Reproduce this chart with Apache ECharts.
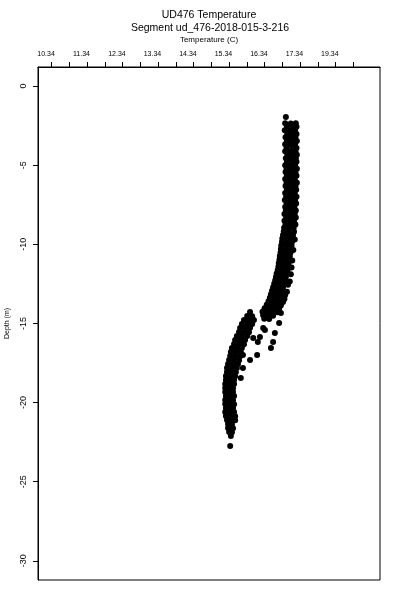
<!DOCTYPE html>
<html><head><meta charset="utf-8">
<script src="https://cdn.jsdelivr.net/npm/echarts@6/dist/echarts.min.js"></script>
<style>html,body{margin:0;padding:0;background:#fff}#c{width:400px;height:600px}</style>
</head><body><div id="c"></div>
<script>
const chartTitle = 'UD476 Temperature';
const chartSubtitle = 'Segment ud_476-2018-015-3-216';
const xName = 'Temperature (C)';
const yName = 'Depth (m)';
const xTickValues = [10.5,11.0,11.5,12.0,12.5,13.0,13.5,14.0,14.5,15.0,15.5,16.0,16.5,17.0,17.5,18.0,18.5,19.0];
const xLabelValues = [10.34,11.34,12.34,13.34,14.34,15.34,16.34,17.34,18.34];
const xLabelText = ['10.34','11.34','12.34','13.34','14.34','15.34','16.34','17.34','19.34'];
const yTickValues = [-30,-25,-20,-15,-10,-5,0];

// [temperature, depth]
const upperProfile = [
[17.10,-1.96],
[17.08,-2.35],[17.24,-2.37],[17.38,-2.36],
[17.13,-2.58],[17.28,-2.59],[17.40,-2.57],
[17.07,-2.80],[17.22,-2.82],[17.36,-2.81],
[17.14,-3.02],[17.29,-3.04],[17.40,-3.03],
[17.09,-3.24],[17.24,-3.26],[17.37,-3.25],
[17.13,-3.46],[17.27,-3.48],[17.41,-3.47],
[17.08,-3.68],[17.22,-3.70],[17.36,-3.69],
[17.12,-3.90],[17.28,-3.92],[17.40,-3.91],
[17.08,-4.12],[17.23,-4.14],[17.37,-4.13],
[17.14,-4.34],[17.27,-4.36],[17.41,-4.35],
[17.10,-4.56],[17.24,-4.58],[17.38,-4.57],
[17.13,-4.78],[17.29,-4.80],[17.40,-4.79],
[17.08,-5.00],[17.22,-5.02],[17.36,-5.01],
[17.12,-5.22],[17.26,-5.24],[17.41,-5.23],
[17.09,-5.44],[17.23,-5.46],[17.37,-5.45],
[17.13,-5.66],[17.28,-5.68],[17.40,-5.67],
[17.08,-5.88],[17.22,-5.90],[17.35,-5.89],
[17.12,-6.10],[17.27,-6.12],[17.41,-6.11],
[17.09,-6.32],[17.24,-6.34],[17.37,-6.33],
[17.13,-6.54],[17.28,-6.56],[17.39,-6.55],
[17.08,-6.76],[17.21,-6.78],[17.35,-6.77],
[17.11,-6.98],[17.26,-7.00],[17.40,-6.99],
[17.07,-7.20],[17.22,-7.22],[17.36,-7.21],
[17.12,-7.42],[17.27,-7.44],[17.39,-7.43],
[17.08,-7.64],[17.21,-7.66],[17.34,-7.65],
[17.10,-7.86],[17.25,-7.88],[17.38,-7.87],
[17.06,-8.08],[17.20,-8.10],[17.35,-8.09],
[17.11,-8.30],[17.26,-8.32],[17.38,-8.31],
[17.06,-8.52],[17.19,-8.54],[17.33,-8.53],
[17.09,-8.74],[17.24,-8.76],[17.37,-8.75],
[17.05,-8.96],[17.18,-8.98],[17.32,-8.97]
];
const midProfile = [
[17.04,-9.20],[17.18,-9.22],[17.33,-9.21],
[17.02,-9.42],[17.16,-9.44],[17.30,-9.43],
[17.00,-9.64],[17.14,-9.66],[17.29,-9.65],[17.35,-9.70],
[16.99,-9.86],[17.13,-9.88],[17.27,-9.87],
[16.97,-10.08],[17.11,-10.10],[17.26,-10.09],
[16.96,-10.30],[17.10,-10.32],[17.24,-10.31],[17.31,-10.36],
[16.95,-10.52],[17.09,-10.54],[17.23,-10.53],
[16.93,-10.74],[17.07,-10.76],[17.21,-10.75],
[16.92,-10.96],[17.06,-10.98],[17.20,-10.97],[17.28,-11.02],
[16.90,-11.18],[17.04,-11.20],[17.18,-11.19],
[16.89,-11.40],[17.03,-11.42],[17.16,-11.41],[17.26,-11.47],
[16.87,-11.62],[17.01,-11.64],[17.15,-11.63],
[16.84,-11.84],[16.98,-11.86],[17.12,-11.85],[17.24,-11.90],
[16.82,-12.06],[16.96,-12.08],[17.10,-12.07],
[16.80,-12.28],[16.94,-12.30],[17.08,-12.29],[17.21,-12.35],
[16.77,-12.50],[16.91,-12.52],[17.05,-12.51],[17.16,-12.55],
[16.74,-12.72],[16.88,-12.74],[17.02,-12.73],
[16.71,-12.94],[16.85,-12.96],[16.99,-12.95],[17.13,-13.00],
[16.68,-13.16],[16.81,-13.18],[16.95,-13.17],[17.08,-13.20],
[16.65,-13.38],[16.78,-13.40],[16.92,-13.39],[17.06,-13.45],
[16.61,-13.60],[16.74,-13.62],[16.88,-13.61],[17.02,-13.65],
[16.56,-13.82],[16.70,-13.84],[16.84,-13.83],[16.96,-13.86],
[16.50,-14.04],[16.64,-14.06],[16.78,-14.05],[16.91,-14.08],
[16.44,-14.26],[16.58,-14.28],[16.72,-14.27],[16.86,-14.30],
[16.46,-14.48],[16.60,-14.50],[16.74,-14.52],
[16.49,-14.70],[16.63,-14.72]
];
const offsetPoints = [
[16.96,-14.34],[16.91,-14.97],[16.79,-15.60],[16.74,-16.17],[16.68,-16.55],
[16.51,-15.41],[16.46,-15.29],[16.37,-15.86],[16.31,-16.17],[16.18,-15.92],
[16.29,-16.99],[16.09,-17.31],[15.89,-16.99],[15.89,-17.81],[15.83,-18.45]
];
const lowerProfile = [
[16.09,-14.28],
[16.01,-14.53],[16.15,-14.55],
[15.92,-14.78],[16.06,-14.80],[16.20,-14.79],
[15.86,-15.03],[16.01,-15.05],[16.15,-15.04],
[15.81,-15.29],[15.95,-15.30],[16.09,-15.28],
[15.78,-15.54],[15.92,-15.56],[16.06,-15.55],
[15.72,-15.79],[15.86,-15.81],[16.01,-15.80],
[15.67,-16.05],[15.81,-16.06],[15.95,-16.04],
[15.64,-16.30],[15.78,-16.32],[15.92,-16.31],
[15.58,-16.55],[15.72,-16.57],[15.86,-16.56],
[15.55,-16.80],[15.69,-16.82],[15.83,-16.81],
[15.53,-17.06],[15.67,-17.08],[15.81,-17.07],
[15.50,-17.31],[15.64,-17.33],[15.78,-17.32],
[15.47,-17.56],[15.61,-17.58],[15.75,-17.57],
[15.44,-17.81],[15.58,-17.83],[15.72,-17.82],
[15.44,-18.07],[15.55,-18.09],[15.69,-18.08],
[15.41,-18.32],[15.53,-18.34],[15.67,-18.33],
[15.41,-18.57],[15.53,-18.59],[15.64,-18.58],
[15.39,-18.82],[15.50,-18.84],[15.64,-18.83],
[15.39,-19.08],[15.50,-19.10],[15.61,-19.09],
[15.39,-19.33],[15.50,-19.35],[15.61,-19.34],
[15.41,-19.58],[15.53,-19.60],[15.64,-19.59],
[15.39,-19.84],[15.50,-19.86],[15.61,-19.85],
[15.39,-20.09],[15.50,-20.11],[15.64,-20.10],
[15.41,-20.34],[15.53,-20.36],[15.61,-20.35],
[15.39,-20.59],[15.53,-20.61],[15.64,-20.60],
[15.41,-20.85],[15.53,-20.87],[15.67,-20.86],
[15.44,-21.10],[15.55,-21.12],[15.67,-21.11],
[15.47,-21.35],[15.58,-21.37],
[15.47,-21.60],[15.61,-21.62],
[15.50,-21.86],[15.58,-21.88],
[15.55,-22.11],
[15.53,-22.74]
];

const FONT = '"Liberation Sans", Arial, Helvetica, sans-serif';
const profileData = upperProfile.concat(midProfile, offsetPoints, lowerProfile);

const chart = echarts.init(document.getElementById('c'), null, {renderer: 'canvas'});
chart.setOption({
  animation: false,
  backgroundColor: '#ffffff',
  title: [
    {text: chartTitle, left: 209, top: 10, textAlign: 'center', padding: 0,
     textStyle: {fontSize: 10.5, fontWeight: 'normal', color: '#000', fontFamily: FONT}},
    {text: chartSubtitle, left: 210, top: 23, textAlign: 'center', padding: 0,
     textStyle: {fontSize: 10.5, fontWeight: 'normal', color: '#000', fontFamily: FONT}}
  ],
  grid: {left: 38, right: 20, top: 67, bottom: 20, show: true, borderColor: '#000', borderWidth: 1,
         containLabel: false, outerBoundsMode: 'none'},
  xAxis: {
    type: 'value', position: 'top', min: 10.114, max: 19.753,
    name: xName, nameLocation: 'middle', nameGap: 23,
    nameTextStyle: {fontSize: 8, color: '#000', fontFamily: FONT},
    axisLine: {show: true, onZero: false, lineStyle: {color: '#000', width: 1}},
    axisTick: {show: true, inside: false, length: 5, lineStyle: {color: '#000', width: 1}, customValues: xTickValues},
    axisLabel: {customValues: xLabelValues, fontSize: 7, color: '#000', fontFamily: FONT, margin: 9,
      formatter: function (v) {
        const i = xLabelValues.findIndex(function (t) { return Math.abs(t - v) < 1e-6; });
        return i >= 0 ? xLabelText[i] : '';
      }},
    splitLine: {show: false}
  },
  yAxis: {
    type: 'value', position: 'left', min: -31.21, max: 1.2,
    name: yName, nameLocation: 'middle', nameGap: 27,
    nameTextStyle: {fontSize: 7, color: '#000', fontFamily: FONT},
    axisLine: {show: true, onZero: false, lineStyle: {color: '#000', width: 1}},
    axisTick: {show: true, inside: false, length: 5, lineStyle: {color: '#000', width: 1}, customValues: yTickValues},
    axisLabel: {customValues: yTickValues, rotate: 90, fontSize: 9, color: '#000', fontFamily: FONT, margin: 10},
    splitLine: {show: false}
  },
  series: [{
    type: 'scatter', data: profileData, symbol: 'circle', symbolSize: 6,
    itemStyle: {color: '#000', opacity: 1}, silent: true
  }]
});
</script>
</body></html>
